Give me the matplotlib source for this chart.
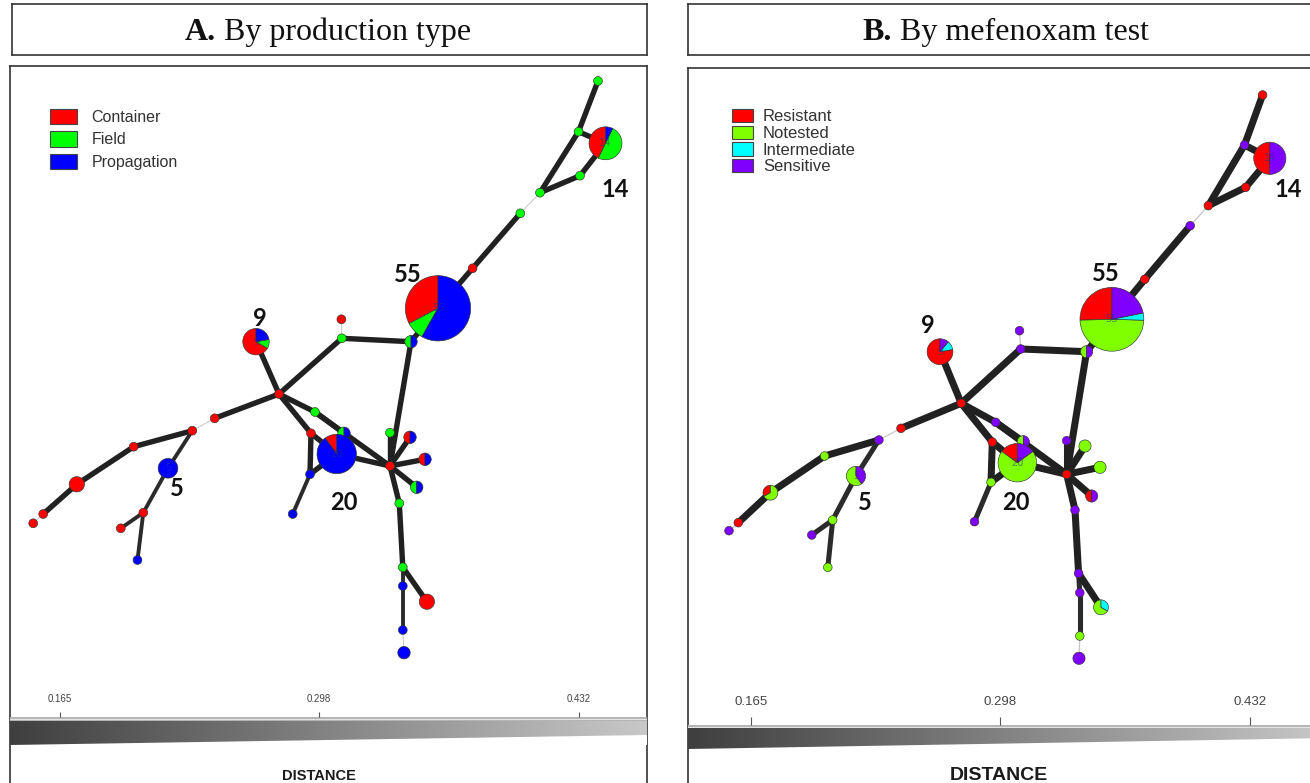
import numpy as np
import matplotlib.pyplot as plt
from matplotlib.patches import Patch, Polygon
from matplotlib.colors import LinearSegmentedColormap

W, H = 1310, 783

# ---- categories ----
prod_labels = ['Container', 'Field', 'Propagation']
prod_colors = ['#ff0000', '#00ff00', '#0000ff']
mef_labels = ['Resistant', 'Notested', 'Intermediate', 'Sensitive']
mef_colors = ['#ff0000', '#80ff00', '#00ffff', '#8000ff']

# ---- isolates per genotype node (same 40 nodes in both panels) ----
prod_counts = [
    [0, 1, 0], [0, 1, 0], [6, 7, 1], [0, 1, 0], [0, 1, 0],
    [0, 1, 0], [1, 0, 0], [18, 5, 32], [0, 1, 1], [0, 1, 0],
    [1, 0, 0], [6, 1, 2], [1, 0, 0], [1, 0, 0], [1, 0, 0],
    [1, 0, 0], [3, 0, 0], [1, 0, 0], [1, 0, 0], [0, 0, 5],
    [1, 0, 0], [1, 0, 0], [0, 0, 1], [0, 1, 0], [1, 0, 0],
    [0, 1, 1], [2, 0, 18], [0, 0, 1], [0, 0, 1], [1, 0, 0],
    [0, 1, 0], [1, 0, 1], [1, 0, 1], [0, 1, 1], [0, 1, 0],
    [0, 1, 0], [0, 0, 1], [3, 0, 0], [0, 0, 1], [0, 0, 2],
]
mef_counts = [
    [1, 0, 0, 0], [0, 0, 0, 1], [7, 0, 0, 7], [1, 0, 0, 0], [1, 0, 0, 0],
    [0, 0, 0, 1], [1, 0, 0, 0], [14, 27, 2, 12], [0, 1, 0, 1], [0, 0, 0, 1],
    [0, 0, 0, 1], [7, 0, 1, 1], [1, 0, 0, 0], [1, 0, 0, 0], [0, 0, 0, 1],
    [0, 1, 0, 0], [1, 2, 0, 0], [1, 0, 0, 0], [0, 0, 0, 1], [0, 3, 0, 2],
    [0, 1, 0, 0], [0, 0, 0, 1], [0, 1, 0, 0], [0, 0, 0, 1], [1, 0, 0, 0],
    [0, 1, 0, 1], [3, 14, 0, 3], [0, 1, 0, 0], [0, 0, 0, 1], [1, 0, 0, 0],
    [0, 0, 0, 1], [0, 2, 0, 0], [0, 2, 0, 0], [1, 0, 0, 1], [0, 0, 0, 1],
    [0, 0, 0, 1], [0, 0, 0, 1], [0, 2, 1, 0], [0, 1, 0, 0], [0, 0, 0, 2],
]

# ---- network layout (px inside each frame) ----
pos_a_x = [588, 568.5, 595.5, 570, 530, 510.3, 462.6, 428, 401, 331.8,
           331.4, 246, 269, 204.7, 182.3, 123.7, 66.8, 33.2, 23.2, 158,
           133.3, 110.8, 127.5, 305, 301, 334, 326.7, 300, 282.7, 380,
           380, 400, 415, 406.7, 389.3, 392.8, 392.8, 416.9, 392.8, 394]
pos_a_y = [15, 65.7, 77.3, 109.7, 126.7, 147.3, 202.3, 242.3, 275.7, 272.3,
           253.3, 275.7, 328, 352.3, 364.7, 380.7, 418.3, 448, 457.3, 402.3,
           446.7, 462.3, 494, 346, 367.3, 367.3, 388, 408.3, 448, 400,
           366.7, 371.3, 393.3, 421.3, 437.3, 501.3, 520, 535.7, 564, 586.7]
pos_b_x = [574.6, 556.5, 581.8, 557.7, 520.3, 502.2, 456.8, 423.9, 398.6, 332.7,
           331.5, 252, 273.2, 213, 190.9, 136.6, 82.4, 50.3, 41, 168,
           144.7, 123.8, 139.8, 307.7, 304.3, 335.3, 329.3, 303, 286.5, 378.7,
           378.7, 397, 412, 403.7, 387, 390.6, 391.8, 413, 391.8, 391]
pos_b_y = [27, 77, 90.3, 119.3, 137.7, 157.7, 211.3, 251.3, 283.7, 281,
           262.7, 283.7, 335.3, 360.3, 372, 388, 424.7, 454.7, 462.7, 408,
           452, 467, 499.3, 354.3, 374, 373.7, 394.7, 414.3, 453.7, 406.3,
           372.7, 378, 399.3, 428, 442, 505.3, 524.7, 539.3, 568, 590.3]

# minimum spanning network edges and their distances
edges = [(0, 1), (1, 2), (1, 4), (2, 3), (3, 4), (4, 5), (5, 6), (6, 7),
         (7, 8), (8, 9), (9, 10), (9, 12), (8, 29), (11, 12), (12, 13),
         (13, 14), (14, 15), (15, 16), (16, 17), (17, 18), (14, 19),
         (19, 20), (20, 21), (20, 22), (12, 23), (12, 24), (23, 25),
         (23, 29), (24, 26), (24, 27), (27, 26), (27, 28), (26, 29),
         (29, 30), (29, 31), (29, 32), (29, 33), (29, 34), (34, 35),
         (35, 36), (35, 37), (36, 38), (38, 39)]
edge_dist = [0.16, 0.16, 0.16, 0.16, 0.16, 0.40, 0.16, 0.16,
             0.16, 0.16, 0.40, 0.16, 0.16, 0.16, 0.16,
             0.40, 0.16, 0.16, 0.16, 0.40, 0.22,
             0.22, 0.22, 0.22, 0.16, 0.16, 0.16,
             0.16, 0.16, 0.16, 0.16, 0.22, 0.16,
             0.16, 0.16, 0.16, 0.16, 0.16, 0.16,
             0.22, 0.16, 0.22, 0.40]

big_nodes = [2, 7, 11, 19, 26]
lab_a_x = [605, 397.6, 249.8, 166.4, 334]
lab_a_y = [123.5, 208, 252.3, 422, 436.3]
lab_b_x = [600, 418, 240, 176.4, 328]
lab_b_y = [121.5, 206, 257.3, 434.5, 434.5]

scale_ticks = [0.165, 0.298, 0.432]

PX = 0.72  # points per pixel at dpi 100
bar_cmap = LinearSegmentedColormap.from_list('dist', ['#3f3f3f', '#c8c8c8'])


def px_axes(x0, y0, w, h):
    return fig.add_axes([x0 / W, 1 - (y0 + h) / H, w / W, h / H])


def title_box(x0, w, bold, rest, cx):
    ax = px_axes(x0, 4, w, 51)
    ax.set_xticks([])
    ax.set_yticks([])
    for s in ax.spines.values():
        s.set_color('#333333')
        s.set_linewidth(1.2)
    t1 = ax.text(0, (55 - 40) / 51, bold, fontsize=23, weight='bold', family='Liberation Serif',
                 va='baseline', ha='left', color='#111111')
    t2 = ax.annotate(rest, xy=(1, 0), xycoords=t1, va='bottom', ha='left',
                     fontsize=23, family='Liberation Serif', color='#111111')
    fig.canvas.draw()
    r = fig.canvas.get_renderer()
    wt = t1.get_window_extent(r).width + t2.get_window_extent(r).width
    t1.set_x((cx - x0 - wt / 2) / w)


def draw_panel(ax, xs, ys, counts, colors, k_r, lw_scale, lab_x, lab_y):
    for (i, j), d in zip(edges, edge_dist):
        g = np.interp(d, [0.16, 0.22, 0.40], [0.13, 0.17, 0.78])
        lw = np.interp(d, [0.16, 0.22, 0.40], [5.4, 3.9, 1.0]) * lw_scale
        ax.plot([xs[i], xs[j]], [ys[i], ys[j]], color=(g, g, g), lw=lw * PX,
                solid_capstyle='round', zorder=1)
    for n in range(len(xs)):
        c = np.array(counts[n])
        keep = c > 0
        ax.pie(c[keep], colors=[col for col, k in zip(colors, keep) if k],
               center=(xs[n], ys[n]), radius=k_r * np.sqrt(c.sum()),
               startangle=-90, counterclock=False, frame=True,
               wedgeprops=dict(edgecolor='#333333', linewidth=0.45, zorder=3))
        if c.sum() >= 5:
            ax.text(xs[n], ys[n], str(c.sum()), fontsize=7, color='#22308a', alpha=0.55,
                    ha='center', va='center', zorder=4)
    for n, x, y in zip(big_nodes, lab_x, lab_y):
        ax.text(x, y, str(int(np.sum(counts[n]))), fontsize=17, family='Lato', weight='bold',
                ha='center', va='center', color='#111111', zorder=5)


def frame(ax, w, h):
    ax.set_xlim(0, w)
    ax.set_ylim(h, 0)
    ax.set_aspect('auto')
    ax.set_xticks([])
    ax.set_yticks([])
    for s in ax.spines.values():
        s.set_color('#333333')
        s.set_linewidth(1.2)


def scale_bar(x0, y0, w, h, dlim, strip, slant, tick_fs, tick_len, pad, lab_fs, lab_xy):
    ax = px_axes(x0, y0, w, h)
    ax.set_xlim(dlim)
    ax.set_ylim(0, 1)
    grad = np.linspace(dlim[0], dlim[1], 400)[None, :]
    im = ax.imshow(grad, extent=(dlim[0], dlim[1], 0, 1), aspect='auto', cmap=bar_cmap,
                   origin='lower', interpolation='bilinear')
    poly = Polygon([(dlim[0], 0), (dlim[0], strip), (dlim[1], strip), (dlim[1], slant)],
                   closed=True, facecolor='none', edgecolor='none', transform=ax.transData)
    ax.add_patch(poly)
    im.set_clip_path(poly)
    ax.axhspan(strip, 1, color='#b4b4b4', lw=0)
    ax.axhline(strip + (1 - strip) * 0.45, color='#e6e6e6', lw=0.7)
    for s in ax.spines.values():
        s.set_visible(False)
    ax.set_yticks([])
    ax.xaxis.tick_top()
    ax.set_xticks(scale_ticks)
    ax.set_xticklabels([f'{t:.3f}' for t in scale_ticks])
    ax.tick_params(axis='x', direction='out', length=tick_len, width=0.8, color='#555555',
                   labelsize=tick_fs, labelcolor='#444444', pad=pad)
    for t in ax.get_xticklabels():
        t.set_family('Liberation Sans')
    ax.set_xlabel('DISTANCE', fontsize=lab_fs, weight='bold', color='#1a1a1a',
                  family='Liberation Sans')
    ax.xaxis.set_label_position('bottom')
    ax.xaxis.set_label_coords(*lab_xy)


fig = plt.figure(figsize=(W / 100, H / 100), dpi=100)

# ---- panel A ----
title_box(12, 635, 'A.', ' By production type', 328)
axA = px_axes(10, 66, 637, 740)
draw_panel(axA, pos_a_x, pos_a_y, prod_counts, prod_colors, 4.4, 1.0, lab_a_x, lab_a_y)
frame(axA, 637, 740)
axA.legend(handles=[Patch(facecolor=c, edgecolor='#444444', lw=0.8, label=l)
                    for c, l in zip(prod_colors, prod_labels)],
           loc='upper left', bbox_to_anchor=(40, 42.5), bbox_transform=axA.transData,
           frameon=False, handlelength=1.7, handleheight=1.12,
           handletextpad=0.9, labelspacing=0.4, borderpad=0, borderaxespad=0,
           labelcolor='#333333', prop={'family': 'Liberation Sans', 'size': 11.5})
scale_bar(10, 716.7, 637, 28.3, (0.1392, 0.4669), 0.86, 0.35, 7, 3.8, 5.2, 10.5,
          ((319 - 10) / 637, -(769 - 745) / 28.3))

# ---- panel B ----
title_box(688, 636, 'B.', ' By mefenoxam test', 1005.5)
axB = px_axes(688, 68, 642, 740)
draw_panel(axB, pos_b_x, pos_b_y, mef_counts, mef_colors, 4.3, 1.3, lab_b_x, lab_b_y)
frame(axB, 642, 740)
axB.legend(handles=[Patch(facecolor=c, edgecolor='#444444', lw=0.8, label=l)
                    for c, l in zip(mef_colors, mef_labels)],
           loc='upper left', bbox_to_anchor=(44, 41), bbox_transform=axB.transData,
           frameon=False, handlelength=1.26, handleheight=0.84,
           handletextpad=0.6, labelspacing=0.08, borderpad=0, borderaxespad=0,
           labelcolor='#333333', prop={'family': 'Liberation Sans', 'size': 12})
scale_bar(688, 725, 642, 24.3, (0.131, 0.475), 0.877, 0.48, 9.5, 5.8, 6.5, 14,
          ((998.6 - 688) / 642, -(767 - 749.3) / 24.3))

fig.savefig('out.png', dpi=100)
